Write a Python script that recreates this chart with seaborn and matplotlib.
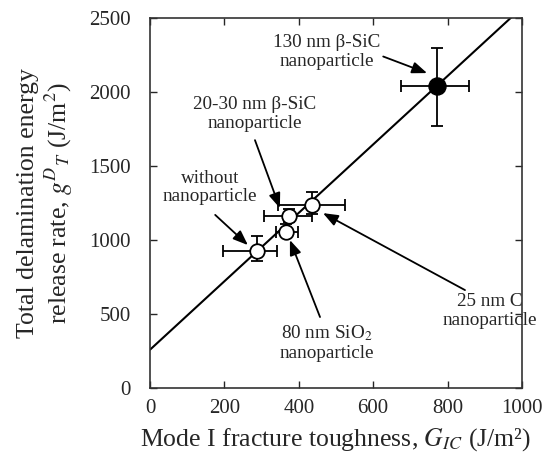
import matplotlib
matplotlib.use("Agg")
import matplotlib.pyplot as plt
import seaborn as sns
import pandas as pd

# ---- data ----
labels = ["without", "20-30 nm SiC", "80 nm SiO2", "25 nm C", "130 nm SiC"]
gic = [287, 374, 366, 435, 773]
gt = [926, 1162, 1056, 1236, 2040]
xerr_lo = [92, 67, 27, 90, 97]
xerr_hi = [54, 61, 33, 90, 84]
yerr_lo = [68, 40, 30, 60, 270]
yerr_hi = [100, 50, 50, 88, 255]
filled = [False, False, False, False, True]
fit_x = [0, 1000]
fit_y = [260, 2570]
x_ticks = [0, 200, 400, 600, 800, 1000]
y_ticks = [0, 500, 1000, 1500, 2000, 2500]

ann_text = ["without\nnanoparticle", "20-30 nm β-SiC\nnanoparticle",
            "80 nm SiO$_2$\nnanoparticle", "25 nm C\nnanoparticle",
            "130 nm β-SiC\nnanoparticle"]
ann_text_x = [161, 282, 476, 914, 476]
ann_text_y = [1355, 1850, 304, 520, 2270]
ann_tail_x = [175, 282, 457, 847, 627]
ann_tail_y = [1170, 1675, 480, 662, 2240]
ann_head_x = [263, 349, 376, 465, 745]
ann_head_y = [966, 1216, 1000, 1182, 2128]

sns.set_style("ticks")
plt.rcParams["font.family"] = ["Liberation Serif", "DejaVu Serif"]
plt.rcParams["mathtext.fontset"] = "stix"

fig = plt.figure(figsize=(5.54, 4.62), dpi=100)
ax = fig.add_axes([0.271, 0.160, 0.671, 0.801])

df = pd.DataFrame({"x": gic, "y": gt, "filled": filled})

sns.lineplot(x=fit_x, y=fit_y, ax=ax, color="black", lw=1.5, zorder=1)

ax.errorbar(gic, gt,
            xerr=[xerr_lo, xerr_hi], yerr=[yerr_lo, yerr_hi],
            fmt="none", ecolor="black", elinewidth=1.3, capsize=4, capthick=1.3, zorder=2)

open_df = df[~df["filled"]]
fill_df = df[df["filled"]]
sns.scatterplot(data=open_df, x="x", y="y", ax=ax, s=110, marker="o",
                facecolor="white", edgecolor="black", linewidth=1.3, zorder=3)
sns.scatterplot(data=fill_df, x="x", y="y", ax=ax, s=150, marker="o",
                color="black", edgecolor="black", linewidth=1.0, zorder=3)

ax.set_xlim(0, 1000)
ax.set_ylim(0, 2500)
ax.set_xticks(x_ticks)
ax.set_yticks(y_ticks)
ax.tick_params(direction="in", top=True, right=True, length=5, width=1.0,
               labelsize=15)
ax.tick_params(axis="y", pad=14)
ax.tick_params(axis="x", pad=8)
for s in ax.spines.values():
    s.set_linewidth(1.2)
    s.set_color("#333333")

ax.set_xlabel("Mode I fracture toughness, $G_{IC}$ (J/m²)", fontsize=18.5, labelpad=6)
ax.set_ylabel("Total delamination energy\nrelease rate, $g^{D}{}_{T}$ (J/m$^2$)",
              fontsize=18.5, labelpad=10, linespacing=1.15)

arrow = dict(arrowstyle="-|>,head_length=0.9,head_width=0.35", color="black",
             lw=1.3, shrinkA=0, shrinkB=0)
fs = 13.8

for t, tx, ty, ax0, ay0, hx, hy in zip(ann_text, ann_text_x, ann_text_y,
                                        ann_tail_x, ann_tail_y, ann_head_x, ann_head_y):
    ax.text(tx, ty, t, ha="center", va="center", fontsize=fs, linespacing=1.15)
    ax.annotate("", xy=(hx, hy), xytext=(ax0, ay0), arrowprops=arrow)

fig.savefig("out.png", dpi=100)
